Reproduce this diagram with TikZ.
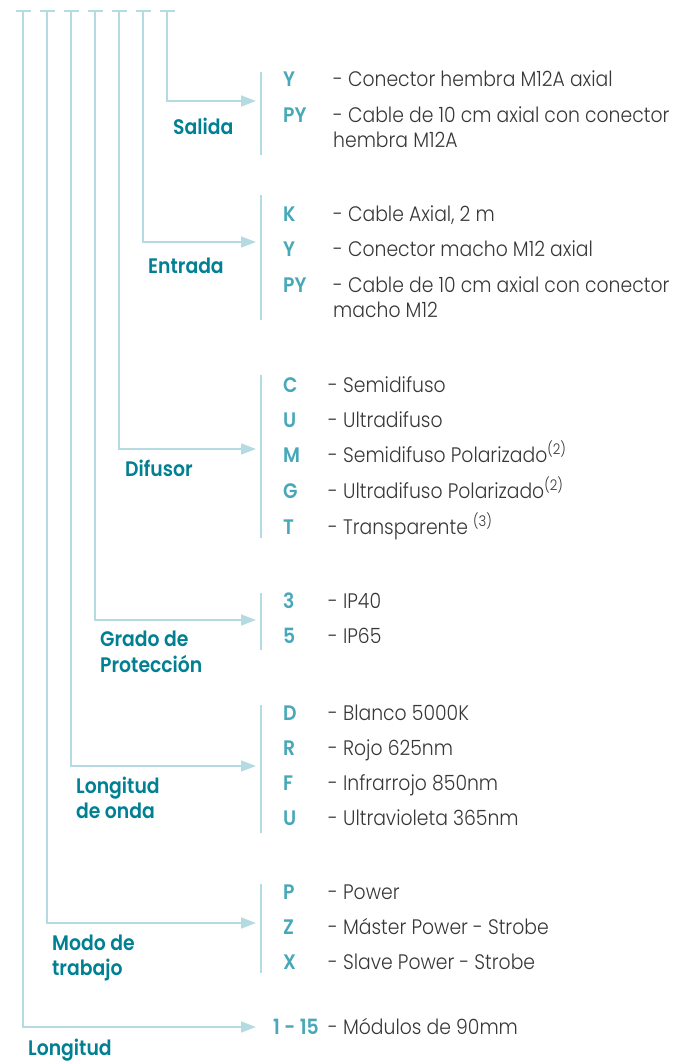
\documentclass[tikz,border=0pt]{standalone}
\usepackage{fontspec}
\setmainfont{Poppins}[UprightFont=* Light,BoldFont=* SemiBold,FakeStretch=0.895]
\usepackage{tikz}
\usetikzlibrary{arrows.meta,positioning}
\definecolor{railCol}{RGB}{180,218,226}
\definecolor{labCol}{RGB}{0,128,146}
\definecolor{codeCol}{RGB}{70,168,184}
\definecolor{txtCol}{RGB}{55,55,55}
\tikzset{
  rail/.style={draw=railCol,line width=1.5pt},
  fl/.style={rail,-{Triangle[length=15pt,width=11pt]}},
  lbl/.style={anchor=base west,inner sep=0pt,font=\fontsize{21}{24}\selectfont\bfseries,
              text=labCol},
  code/.style={anchor=base west,inner sep=0pt,font=\fontsize{21}{24}\selectfont\bfseries,
               text=codeCol},
  desc/.style={anchor=base west,inner sep=0pt,font=\fontsize{21}{24}\selectfont,
               text=txtCol},
}
\begin{document}
\begin{tikzpicture}[x=1pt,y=-1pt]
    \useasboundingbox (0,0) rectangle (673,1061);
    % --- top ticks and rail tops ---
    \foreach \x [count=\i] in {23,47,71,95,119,143,167} {
      \coordinate (top\i) at (\x,11);
      \draw[rail] (\x-7.5,11) -- (\x+7.5,11);
    }
    % --- arrow ends (one per group) ---
    \foreach \y [count=\i] in {1027,923,766,620,449,242,101}
      \coordinate (in\i) at (256,\y);
    \foreach \i in {1,...,7} \draw[fl] (top\i) |- (in\i);
    % --- brackets ---
    \foreach \a/\b [count=\i] in {884/973,705/833,593/650,375/538,195/320,72/155} {
      \coordinate (barA\i) at (261,\a);
      \coordinate (barB\i) at (261,\b);
      \draw[rail] (barA\i) -- (barB\i);
    }
    % --- group labels ---
    \node[lbl] (salida) at (173,134) {Salida};
    \node[lbl] (entrada) at (148,273) {Entrada};
    \node[lbl] (difusor) at (125,476) {Difusor};
    \node[lbl] (grado) at (100,646) {Grado de};
    \node[lbl] (grado2) at (100,672) {Protección};
    \node[lbl] (onda) at (76,793) {Longitud};
    \node[lbl] (onda2) at (76,818) {de onda};
    \node[lbl] (modo) at (52,950) {Modo de};
    \node[lbl] (modo2) at (52,975) {trabajo};
    \node[lbl] (longitud) at (28,1055) {Longitud};
    % --- Salida ---
    \foreach \c/\t/\y [count=\i] in {Y/- Conector hembra M12A axial/86,
        PY/- Cable de 10 cm axial con conector/122} {
      \node[code] (sc\i) at (283,\y) {\c};
      \node[desc] (sd\i) at (333,\y) {\t};
    }
    \node[desc] (sd3) at (333,147) {hembra M12A};
    % --- Entrada ---
    \foreach \c/\t/\y [count=\i] in {K/{- Cable Axial, 2 m}/221,
        Y/- Conector macho M12 axial/256,PY/- Cable de 10 cm axial con conector/292} {
      \node[code] (ec\i) at (283,\y) {\c};
      \node[desc] (ed\i) at (333,\y) {\t};
    }
    \node[desc] (ed4) at (333,317) {macho M12};
    % --- Difusor ---
    \foreach \c/\t/\y [count=\i] in {C/- Semidifuso/392,U/- Ultradifuso/427,
        M/- Semidifuso Polarizado\textsuperscript{(2)}/462,
        G/- Ultradifuso Polarizado\textsuperscript{(2)}/498,
        T/- Transparente \textsuperscript{(3)}/534} {
      \node[code] (dc\i) at (283,\y) {\c};
      \node[desc] (dd\i) at (328,\y) {\t};
    }
    % --- Grado de Proteccion ---
    \foreach \c/\t/\y [count=\i] in {3/- IP40/608,5/- IP65/643} {
      \node[code] (gc\i) at (283,\y) {\c};
      \node[desc] (gd\i) at (328,\y) {\t};
    }
    % --- Longitud de onda ---
    \foreach \c/\t/\y [count=\i] in {D/- Blanco 5000K/720,R/- Rojo 625nm/755,
        F/- Infrarrojo 850nm/790,U/- Ultravioleta 365nm/825} {
      \node[code] (oc\i) at (283,\y) {\c};
      \node[desc] (od\i) at (328,\y) {\t};
    }
    % --- Modo de trabajo ---
    \foreach \c/\t/\y [count=\i] in {P/- Power/899,Z/- Máster Power - Strobe/934,
        X/- Slave Power - Strobe/969} {
      \node[code] (mc\i) at (283,\y) {\c};
      \node[desc] (md\i) at (328,\y) {\t};
    }
    % --- Longitud ---
    \node[code] (lc1) at (273,1034) {1 - 15};
    \node[desc] (ld1) at (328,1034) {- Módulos de 90mm};
  \end{tikzpicture}
\end{document}
